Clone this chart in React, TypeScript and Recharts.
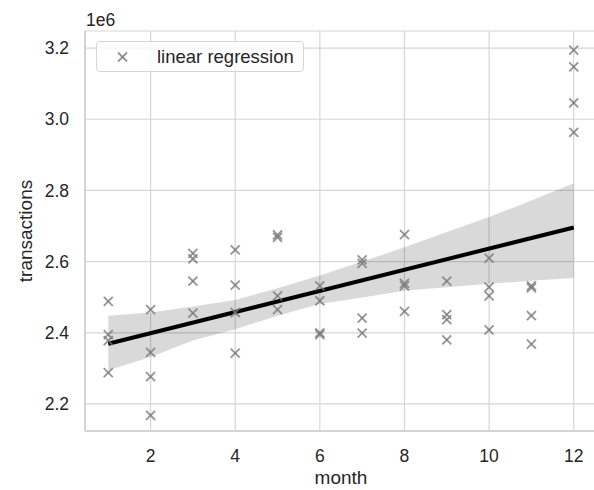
import React from "react";
import {
  ComposedChart,
  Area,
  Line,
  Scatter,
  XAxis,
  YAxis,
  CartesianGrid,
  Label,
} from "recharts";

// observations, one per (month, value) pair
const obsMonth = [
  1, 1, 1, 1, 2, 2, 2, 2, 3, 3, 3, 3, 4, 4, 4, 4, 5, 5, 5, 5, 6, 6, 6, 6,
  7, 7, 7, 7, 8, 8, 8, 8, 9, 9, 9, 9, 10, 10, 10, 10, 11, 11, 11, 11, 12, 12, 12, 12,
];
const obsTransactions = [
  2488000, 2395000, 2378000, 2288000,
  2465000, 2345000, 2277000, 2168000,
  2623000, 2608000, 2545000, 2455000,
  2633000, 2534000, 2457000, 2343000,
  2675000, 2668000, 2504000, 2465000,
  2532000, 2490000, 2400000, 2395000,
  2605000, 2595000, 2441000, 2399000,
  2676000, 2539000, 2532000, 2460000,
  2545000, 2451000, 2437000, 2380000,
  2610000, 2528000, 2504000, 2408000,
  2532000, 2526000, 2448000, 2368000,
  3194000, 3147000, 3046000, 2963000,
];

// regression fit and its confidence band
const bandMonths = [1, 2, 3, 4, 5, 6, 7, 8, 9, 10, 11, 12];
const bandLow = [
  2295000, 2332000, 2378000, 2410000, 2448000, 2481000, 2499000, 2518000, 2528000, 2538000,
  2546000, 2554000,
];
const bandHigh = [
  2448000, 2457000, 2474000, 2492000, 2525000, 2561000, 2600000, 2640000, 2683000, 2725000,
  2772000, 2820000,
];
const fitMonths = [1, 12];
const fitValues = [2369000, 2696000];

const xTicks = [2, 4, 6, 8, 10, 12];
const yTicks = [2200000, 2400000, 2600000, 2800000, 3000000, 3200000];

const FONT = "'Liberation Sans', Arial, sans-serif";
const TEXT = "#262626";

const points = obsMonth.map((m, i) => ({ month: m, transactions: obsTransactions[i] }));
const rows = bandMonths.map((m, i) => {
  const k = fitMonths.indexOf(m);
  return {
    month: m,
    band: [bandLow[i], bandHigh[i]],
    fit: k >= 0 ? fitValues[k] : null,
  };
});

function Cross(props: any) {
  const { cx, cy } = props;
  const r = 4.5;
  return (
    <g stroke="#7a7a7a" strokeOpacity={0.8} strokeWidth={1.8}>
      <line x1={cx - r} y1={cy - r} x2={cx + r} y2={cy + r} />
      <line x1={cx - r} y1={cy + r} x2={cx + r} y2={cy - r} />
    </g>
  );
}

export default function App() {
  return (
    <div
      style={{
        position: "absolute",
        left: 0,
        top: 0,
        width: 594,
        height: 490,
        overflow: "hidden",
        background: "#fff",
        fontFamily: FONT,
      }}
    >
      <ComposedChart
        width={597}
        height={490}
        data={rows}
        margin={{ top: 31, right: 0, bottom: 0, left: 0 }}
      >
        <CartesianGrid stroke="#d6d6d6" strokeWidth={1.2} />
        <XAxis
          dataKey="month"
          type="number"
          domain={[0.45, 12.55]}
          ticks={xTicks}
          allowDataOverflow
          height={59}
          stroke="#cccccc"
          strokeWidth={1.5}
          tickLine={false}
          tickSize={0}
          tickMargin={19}
          tick={{ fill: TEXT, fontSize: 17.5, fontFamily: FONT }}
        >
          <Label
            content={(p: any) => (
              <text
                x={p.viewBox.x + p.viewBox.width / 2}
                y={p.viewBox.y + 53}
                textAnchor="middle"
                fill={TEXT}
                fontSize={19}
                fontFamily={FONT}
              >
                month
              </text>
            )}
          />
        </XAxis>
        <YAxis
          type="number"
          domain={[2124000, 3248000]}
          ticks={yTicks}
          allowDataOverflow
          width={85}
          stroke="#cccccc"
          strokeWidth={1.5}
          tickLine={false}
          tickSize={0}
          tickMargin={16}
          tickFormatter={(v: number) => (v / 1e6).toFixed(1)}
          tick={{ fill: TEXT, fontSize: 17.5, fontFamily: FONT }}
        >
          <Label
            content={(p: any) => {
              const x = p.viewBox.x + 25;
              const y = p.viewBox.y + p.viewBox.height / 2;
              return (
                <text
                  x={x}
                  y={y}
                  transform={`rotate(-90 ${x} ${y})`}
                  textAnchor="middle"
                  dominantBaseline="central"
                  fill={TEXT}
                  fontSize={19}
                  fontFamily={FONT}
                >
                  transactions
                </text>
              );
            }}
          />
          <Label
            content={(p: any) => (
              <text
                x={p.viewBox.x + 86}
                y={p.viewBox.y - 5}
                textAnchor="start"
                fill={TEXT}
                fontSize={17.5}
                fontFamily={FONT}
              >
                1e6
              </text>
            )}
          />
        </YAxis>
        <Area
          dataKey="band"
          type="linear"
          stroke="none"
          fill="#000"
          fillOpacity={0.15}
          isAnimationActive={false}
          activeDot={false}
        />
        <Scatter
          data={points}
          dataKey="transactions"
          shape={Cross}
          isAnimationActive={false}
        />
        <Line
          dataKey="fit"
          type="linear"
          stroke="#000"
          strokeWidth={4}
          dot={false}
          connectNulls
          isAnimationActive={false}
        />
      </ComposedChart>
      <div
        style={{
          position: "absolute",
          left: 96,
          top: 41,
          width: 208,
          height: 31,
          boxSizing: "border-box",
          border: "1px solid #d6d6d6",
          borderRadius: 4,
          background: "rgba(255,255,255,0.8)",
          display: "flex",
          alignItems: "center",
        }}
      >
        <svg width={60} height={31} style={{ flex: "none" }}>
          <Cross cx={25.5} cy={16} />
        </svg>
        <span style={{ color: TEXT, fontSize: 18.5, marginLeft: 0 }}>linear regression</span>
      </div>
    </div>
  );
}
